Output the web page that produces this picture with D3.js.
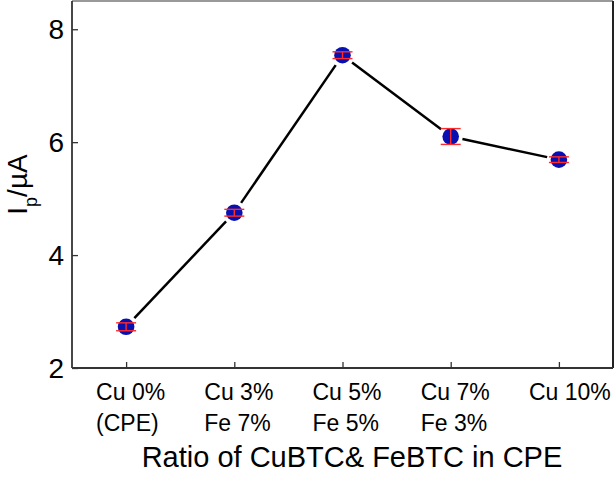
<!DOCTYPE html>
<html>
<head>
<meta charset="utf-8">
<script src="https://cdn.jsdelivr.net/npm/d3@7"></script>
<style>
  html, body { margin: 0; padding: 0; background: #fff; }
  text { font-family: "Liberation Sans", Arial, sans-serif; fill: #000; }
</style>
</head>
<body>
<div id="chart"></div>
<script>
// data
const categories = ["Cu 0%", "Cu 3%", "Cu 5%", "Cu 7%", "Cu 10%"];
const subLabels = ["(CPE)", "Fe 7%", "Fe 5%", "Fe 3%", ""];
const current = [2.73, 4.75, 7.54, 6.10, 5.69];
const errors = [0.07, 0.06, 0.06, 0.14, 0.05];
const yTicks = [2, 4, 6, 8];

const width = 616, height = 477;
const margin = { top: 1, right: 3, bottom: 109, left: 72 };

const svg = d3.select("#chart")
  .append("svg")
  .attr("width", width)
  .attr("height", height);

const x = d3.scaleLinear()
  .domain([-0.5, categories.length - 0.5])
  .range([margin.left, width - margin.right]);

const y = d3.scaleLinear()
  .domain([2, 8.5])
  .range([height - margin.bottom, margin.top]);

const x0 = margin.left, x1 = width - margin.right;
const y0 = height - margin.bottom, y1 = margin.top;

// frame
svg.append("line").attr("x1", x0).attr("x2", x1).attr("y1", y1).attr("y2", y1)
  .attr("stroke", "#777").attr("stroke-width", 1.5);
svg.append("line").attr("x1", x1).attr("x2", x1).attr("y1", y1).attr("y2", y0)
  .attr("stroke", "#222").attr("stroke-width", 2);

// y axis, ticks pointing inwards
const yAxis = svg.append("g")
  .attr("transform", `translate(${x0},0)`)
  .call(d3.axisRight(y).tickValues(yTicks).tickSize(6).tickFormat(""));
yAxis.select(".domain").attr("stroke", "#333").attr("stroke-width", 1.8)
  .attr("d", `M0,${y1}V${y0}`);
yAxis.selectAll(".tick line").attr("stroke", "#333").attr("stroke-width", 1.3);

svg.selectAll(".ylab")
  .data(yTicks)
  .enter().append("text")
  .attr("class", "ylab")
  .attr("x", x0 - 8)
  .attr("y", d => y(d))
  .attr("dy", "0.36em")
  .attr("text-anchor", "end")
  .style("font-size", "28px")
  .text(d => d);

// x axis, ticks pointing inwards
const xAxis = svg.append("g")
  .attr("transform", `translate(0,${y0})`)
  .call(d3.axisTop(x).tickValues(d3.range(categories.length)).tickSize(6).tickFormat(""));
xAxis.select(".domain").attr("stroke", "#333").attr("stroke-width", 1.8)
  .attr("d", `M${x0},0H${x1}`);
xAxis.selectAll(".tick line").attr("stroke", "#333").attr("stroke-width", 1.3);

const labels = svg.selectAll(".xlab")
  .data(categories)
  .enter().append("text")
  .attr("class", "xlab")
  .attr("text-anchor", "start")
  .style("font-size", "23px");
labels.append("tspan")
  .attr("x", (d, i) => x(i) - 30)
  .attr("y", 400)
  .text(d => d);
labels.append("tspan")
  .attr("x", (d, i) => x(i) - 30)
  .attr("y", 431)
  .text((d, i) => subLabels[i]);

// axis titles
svg.append("text")
  .attr("x", 352)
  .attr("y", 467)
  .attr("text-anchor", "middle")
  .style("font-size", "29px")
  .text("Ratio of CuBTC& FeBTC in CPE");

const yTitle = svg.append("text")
  .attr("transform", `translate(27,${(y0 + y1) / 2}) rotate(-90)`)
  .attr("text-anchor", "middle")
  .style("font-size", "28px");
yTitle.append("tspan").text("I");
yTitle.append("tspan").attr("baseline-shift", "sub").style("font-size", "18px").text("p");
yTitle.append("tspan").text("/\u00b5A");

// connecting line, broken short of each marker
const gap = 12;
const pts = current.map((v, i) => [x(i), y(v)]);
const segs = d3.pairs(pts).map(([a, b]) => {
  const dx = b[0] - a[0], dy = b[1] - a[1];
  const len = Math.hypot(dx, dy);
  const ux = dx / len, uy = dy / len;
  return [a[0] + ux * gap, a[1] + uy * gap, b[0] - ux * gap, b[1] - uy * gap];
});
svg.selectAll(".seg")
  .data(segs)
  .enter().append("line")
  .attr("class", "seg")
  .attr("x1", d => d[0]).attr("y1", d => d[1])
  .attr("x2", d => d[2]).attr("y2", d => d[3])
  .attr("stroke", "#000")
  .attr("stroke-width", 2.5);

// markers
svg.selectAll(".dot")
  .data(current)
  .enter().append("circle")
  .attr("class", "dot")
  .attr("cx", (d, i) => x(i))
  .attr("cy", d => y(d))
  .attr("r", 8.3)
  .attr("fill", "#0a10b0");

// error bars on top
const eb = svg.selectAll(".err")
  .data(current)
  .enter().append("g")
  .attr("class", "err")
  .attr("stroke", "#ff2a2a")
  .attr("stroke-width", 1.4);
eb.append("line")
  .attr("x1", (d, i) => x(i)).attr("x2", (d, i) => x(i))
  .attr("y1", (d, i) => y(d + errors[i])).attr("y2", (d, i) => y(d - errors[i]));
eb.append("line")
  .attr("x1", (d, i) => x(i) - 10).attr("x2", (d, i) => x(i) + 10)
  .attr("y1", (d, i) => y(d + errors[i])).attr("y2", (d, i) => y(d + errors[i]));
eb.append("line")
  .attr("x1", (d, i) => x(i) - 10).attr("x2", (d, i) => x(i) + 10)
  .attr("y1", (d, i) => y(d - errors[i])).attr("y2", (d, i) => y(d - errors[i]));
</script>
</body>
</html>
